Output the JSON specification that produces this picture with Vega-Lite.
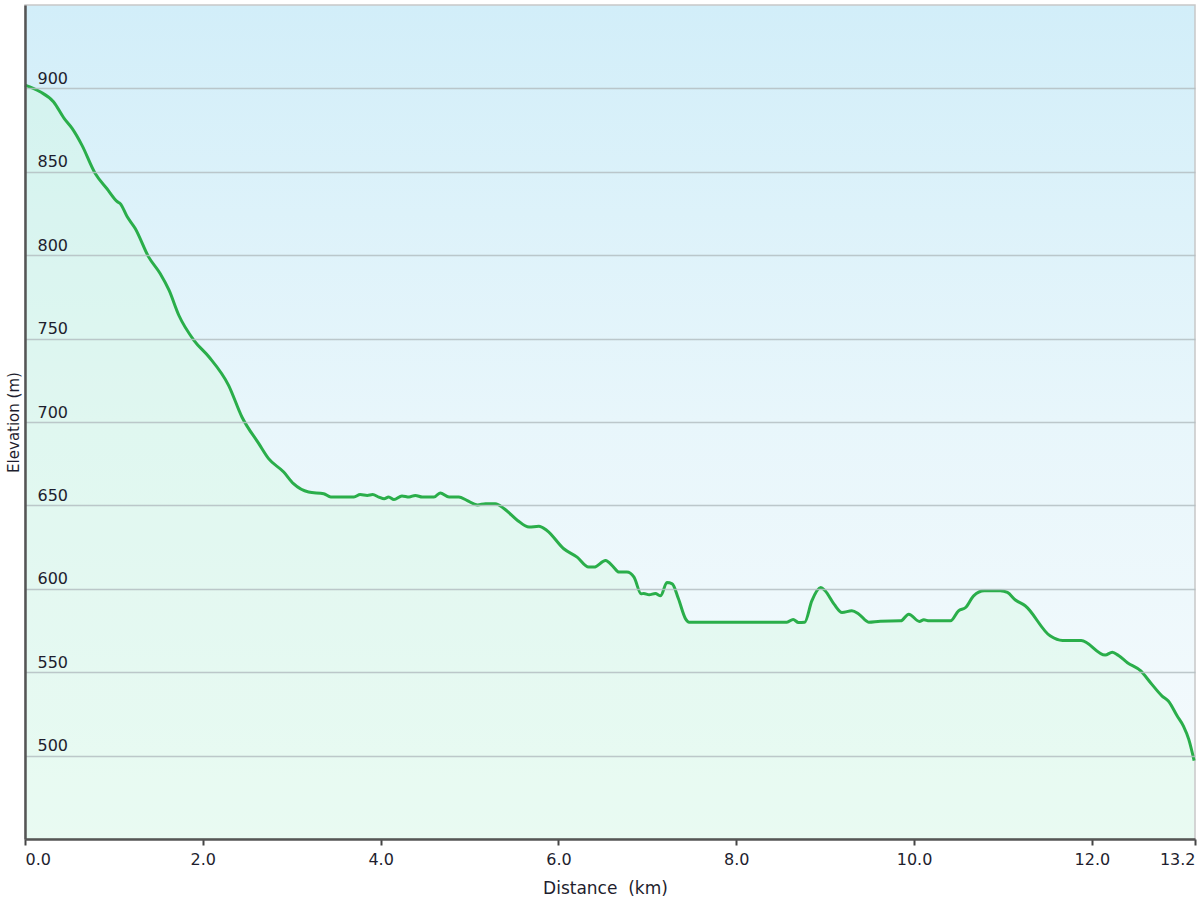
{
  "$schema": "https://vega.github.io/schema/vega-lite/v6.json",
  "width": 1170,
  "height": 834,
  "autosize": {"type": "none"},
  "padding": {"left": 25, "top": 5, "right": 5, "bottom": 61},
  "background": "#ffffff",
  "config": {
    "font": "DejaVu Sans",
    "view": {"stroke": "#c8c8c8", "strokeWidth": 1.5,
      "fill": {"gradient": "linear", "x1": 0, "y1": 0, "x2": 0, "y2": 1,
        "stops": [{"offset": 0, "color": "#d2eef9"}, {"offset": 0.5, "color": "#e8f6fb"}, {"offset": 1, "color": "#f6fbfd"}]}},
    "axis": {"labelFont": "DejaVu Sans", "titleFont": "DejaVu Sans", "labelColor": "#1e1e2e", "titleColor": "#1e1e2e", "titleFontWeight": "normal"}
  },
  "data": {"values": [
    {"km": 0.00, "elev": 902}, {"km": 0.17, "elev": 898}, {"km": 0.32, "elev": 892}, {"km": 0.44, "elev": 882},
    {"km": 0.53, "elev": 876}, {"km": 0.64, "elev": 866}, {"km": 0.79, "elev": 849}, {"km": 0.92, "elev": 840},
    {"km": 1.04, "elev": 832}, {"km": 1.07, "elev": 831}, {"km": 1.15, "elev": 823}, {"km": 1.24, "elev": 816},
    {"km": 1.39, "elev": 799}, {"km": 1.52, "elev": 789}, {"km": 1.62, "elev": 779}, {"km": 1.73, "elev": 764},
    {"km": 1.90, "elev": 749}, {"km": 2.07, "elev": 739}, {"km": 2.29, "elev": 722}, {"km": 2.44, "elev": 703},
    {"km": 2.63, "elev": 687}, {"km": 2.74, "elev": 678}, {"km": 2.91, "elev": 670}, {"km": 3.02, "elev": 663},
    {"km": 3.19, "elev": 658}, {"km": 3.36, "elev": 657}, {"km": 3.44, "elev": 655}, {"km": 3.70, "elev": 655},
    {"km": 3.77, "elev": 656.5}, {"km": 3.85, "elev": 656}, {"km": 3.91, "elev": 656.5}, {"km": 3.98, "elev": 655},
    {"km": 4.04, "elev": 654}, {"km": 4.09, "elev": 655}, {"km": 4.15, "elev": 653.5}, {"km": 4.24, "elev": 655.7},
    {"km": 4.32, "elev": 655}, {"km": 4.39, "elev": 656}, {"km": 4.47, "elev": 655}, {"km": 4.60, "elev": 655},
    {"km": 4.67, "elev": 657.5}, {"km": 4.77, "elev": 655}, {"km": 4.88, "elev": 655}, {"km": 4.97, "elev": 653},
    {"km": 5.09, "elev": 650.3}, {"km": 5.18, "elev": 651}, {"km": 5.29, "elev": 651}, {"km": 5.39, "elev": 648},
    {"km": 5.54, "elev": 641}, {"km": 5.67, "elev": 637}, {"km": 5.78, "elev": 637.5}, {"km": 5.87, "elev": 635},
    {"km": 6.06, "elev": 624}, {"km": 6.21, "elev": 619}, {"km": 6.34, "elev": 613}, {"km": 6.40, "elev": 613},
    {"km": 6.53, "elev": 617}, {"km": 6.62, "elev": 613}, {"km": 6.68, "elev": 610}, {"km": 6.77, "elev": 610},
    {"km": 6.85, "elev": 607}, {"km": 6.93, "elev": 597}, {"km": 6.96, "elev": 597.2}, {"km": 7.02, "elev": 596.4},
    {"km": 7.09, "elev": 597.2}, {"km": 7.15, "elev": 595.8}, {"km": 7.22, "elev": 603.8}, {"km": 7.28, "elev": 603},
    {"km": 7.35, "elev": 594}, {"km": 7.43, "elev": 582}, {"km": 7.47, "elev": 580}, {"km": 8.57, "elev": 580},
    {"km": 8.64, "elev": 581.6}, {"km": 8.70, "elev": 579.8}, {"km": 8.77, "elev": 580}, {"km": 8.85, "elev": 592.8},
    {"km": 8.95, "elev": 600.8}, {"km": 9.00, "elev": 598.8}, {"km": 9.10, "elev": 590.8}, {"km": 9.19, "elev": 585.8},
    {"km": 9.30, "elev": 586.8}, {"km": 9.38, "elev": 584.8}, {"km": 9.49, "elev": 580}, {"km": 9.62, "elev": 580.6},
    {"km": 9.85, "elev": 580.8}, {"km": 9.94, "elev": 584.8}, {"km": 10.06, "elev": 580.4}, {"km": 10.11, "elev": 581.4},
    {"km": 10.17, "elev": 580.8}, {"km": 10.41, "elev": 580.8}, {"km": 10.50, "elev": 586.8}, {"km": 10.58, "elev": 588.8},
    {"km": 10.67, "elev": 595.8}, {"km": 10.79, "elev": 598.8}, {"km": 10.97, "elev": 598.8}, {"km": 11.05, "elev": 597.8},
    {"km": 11.14, "elev": 593.3}, {"km": 11.25, "elev": 589.8}, {"km": 11.53, "elev": 571.8}, {"km": 11.67, "elev": 569},
    {"km": 11.88, "elev": 569}, {"km": 12.15, "elev": 560.3}, {"km": 12.23, "elev": 562}, {"km": 12.30, "elev": 560},
    {"km": 12.40, "elev": 555.7}, {"km": 12.55, "elev": 550.8}, {"km": 12.66, "elev": 543.7}, {"km": 12.79, "elev": 535.7},
    {"km": 12.86, "elev": 532.7}, {"km": 12.96, "elev": 523.7}, {"km": 13.03, "elev": 517.7}, {"km": 13.09, "elev": 509.7},
    {"km": 13.15, "elev": 497}
  ]},
  "encoding": {
    "x": {
      "field": "km", "type": "quantitative",
      "scale": {"domain": [0, 13.16], "nice": false, "zero": false},
      "axis": {
        "values": [0, 2, 4, 6, 8, 10, 12, 13.16], "format": ".1f",
        "grid": false, "labelFlush": true, "zindex": 1,
        "domainColor": "#555555", "domainWidth": 2.5,
        "tickColor": "#444444", "tickWidth": 2, "tickSize": 6,
        "labelPadding": 6, "labelFontSize": 16, "labelColor": "#1e1e2e",
        "title": "Distance\u00a0 (km)", "titleFontSize": 17,
        "titleX": 580, "titleY": 49, "titleBaseline": "middle", "titleAlign": "center"
      }
    },
    "y": {
      "field": "elev", "type": "quantitative",
      "scale": {"domain": [450, 950], "nice": false, "zero": false},
      "axis": {
        "values": [500, 550, 600, 650, 700, 750, 800, 850, 900],
        "grid": true, "gridColor": "#b4bec2", "gridWidth": 1.5, "gridOpacity": 0.85,
        "zindex": 1,
        "ticks": false, "labelAlign": "left", "labelPadding": -12,
        "labelBaseline": "alphabetic", "labelOffset": -5, "labelFontSize": 16, "labelColor": "#1e1e2e",
        "domainColor": "#555555", "domainWidth": 2.5,
        "title": "Elevation (m)", "titleFontSize": 15, "titleAngle": -90,
        "titleX": -12, "titleY": 417, "titleBaseline": "middle", "titleAlign": "center"
      }
    }
  },
  "layer": [
    {
      "mark": {"type": "area", "fill": "#d0f8dc", "fillOpacity": 0.35, "interpolate": "monotone"},
      "encoding": {"y2": {"datum": 450}}
    },
    {
      "mark": {"type": "line", "stroke": "#2aae4a", "strokeWidth": 3, "interpolate": "monotone"}
    }
  ]
}
